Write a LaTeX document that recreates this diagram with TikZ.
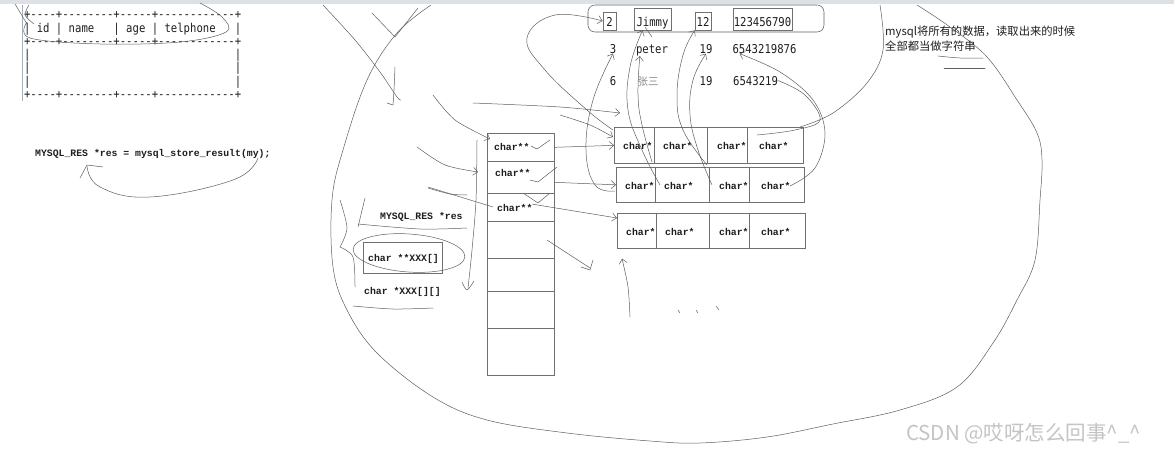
\documentclass[tikz,border=0pt]{standalone}
\usepackage{fontspec}
\usetikzlibrary{arrows.meta}
\newfontfamily\tblfont{DejaVu Sans Mono}[FakeStretch=0.87]
\newfontfamily\sunfont{Liberation Mono}
\newfontfamily\cjkfont{Noto Sans CJK SC}
\definecolor{sk}{HTML}{5E5E5E}
\definecolor{bx}{HTML}{707070}
\definecolor{ink}{HTML}{1E1E1E}
\definecolor{wm}{HTML}{C4C4C4}
\definecolor{bar}{HTML}{DDE1E6}
\definecolor{margin}{HTML}{9DB2C8}
\definecolor{zs}{HTML}{8A8A8A}
\begin{document}
\begin{tikzpicture}[x=1pt,y=-1pt,
  hand/.style={draw=sk, line width=0.5pt, line cap=round, line join=round},
  harrow/.style={hand, -{Straight Barb[length=4.5pt,width=8pt]}},
  cellbox/.style={draw=bx, line width=0.65pt, inner sep=0pt, anchor=north west},
  sun/.style={font=\sunfont\bfseries\fontsize{9.8}{11}\selectfont, text=ink, inner sep=0pt},
  mono/.style={font=\tblfont\fontsize{12.2}{13.2}\selectfont, text=ink, inner sep=0pt},
  cjk/.style={font=\cjkfont\fontsize{11.3}{15}\selectfont, text=ink, inner sep=0pt}]
\useasboundingbox (0,0) rectangle (1174,452);
\fill[white] (0,0) rectangle (1174,452);
\fill[bar] (0,0) rectangle (1174,4);

% ---------- ascii table ----------
\draw[margin, line width=0.8pt] (22,5) -- (22,101);
\node[mono, anchor=base west] (tb1) at (23.8,19) {+----+--------+-----+------------+};
\node[mono, anchor=base west] (tb2) at (23.8,32.2) {|~id~|~name~~~|~age~|~telphone~~~|};
\node[mono, anchor=base west] (tb3) at (23.8,45.4) {+----+--------+-----+------------+};
\node[mono, anchor=base west] (tb4) at (23.8,58.6) {|~~~~~~~~~~~~~~~~~~~~~~~~~~~~~~~~|};
\node[mono, anchor=base west] (tb5) at (23.8,71.8) {|~~~~~~~~~~~~~~~~~~~~~~~~~~~~~~~~|};
\node[mono, anchor=base west] (tb6) at (23.8,85) {|~~~~~~~~~~~~~~~~~~~~~~~~~~~~~~~~|};
\node[mono, anchor=base west] (tb7) at (23.8,98.2) {+----+--------+-----+------------+};
\draw[hand] plot[smooth, tension=0.6] coordinates {(27,22) (30,38) (100,44) (180,42) (226,32) (222,17) (200,3)};
\draw[hand] (15,4) -- (27,24);
\draw[hand] plot[smooth] coordinates {(29,5) (25,15) (34,24)};

% ---------- MYSQL_RES line ----------
\node[sun, anchor=base west] (mres) at (35,156) {MYSQL\_RES *res = mysql\_store\_result(my);};
\draw[hand] plot[smooth, tension=0.7] coordinates {(258,158) (233,180) (150,197) (100,187) (87,166)};
\draw[hand] (80,178) -- (87,165) -- (103,167);

% ---------- big outline ----------
\draw[hand] plot[smooth, tension=0.6] coordinates {(917,5) (950,27) (987,57) (1017,100) (1037,133) (1042,160) (1040,200) (1035,260) (1017,300) (993,343) (957,387) (900,410) (833,424) (767,437) (700,443) (650,441) (567,433) (487,420) (433,397) (377,353) (347,310) (333,267) (332,200) (343,150) (367,80) (397,33) (431,5)};

% ---------- top records ----------
\node[draw=sk, line width=0.55pt, rounded corners=7pt, minimum width=236pt, minimum height=27pt, inner sep=0pt] (rec) at (706,18.5) {};
\node[draw=bx, line width=0.65pt, minimum width=13pt, minimum height=18pt, inner sep=0pt] (b2) at (609.5,21) {};
\node[draw=bx, line width=0.65pt, minimum width=37pt, minimum height=22pt, inner sep=0pt] (bJ) at (652.5,19) {};
\node[draw=bx, line width=0.65pt, minimum width=16pt, minimum height=18pt, inner sep=0pt] (b12) at (703,21) {};
\node[draw=bx, line width=0.65pt, minimum width=59pt, minimum height=22pt, inner sep=0pt] (btel) at (762.5,19) {};
\node[mono, anchor=base] (v2) at (609.5,26.5) {2};
\node[mono, anchor=base] (vJ) at (652.5,26.5) {Jimmy};
\node[mono, anchor=base] (v12) at (703,26.5) {12};
\node[mono, anchor=base] (vtel) at (762.5,26.5) {123456790};
\node[mono, anchor=base] (t3) at (613,53.3) {3};
\node[mono, anchor=base] (tpeter) at (652,53.3) {peter};
\node[mono, anchor=base] (t19a) at (706,53.3) {19};
\node[mono, anchor=base] (ttel2) at (764.5,53.3) {6543219876};
\node[mono, anchor=base] (t6) at (613,85) {6};
\node[anchor=base, inner sep=0pt, text=zs, font=\cjkfont\fontsize{10.5}{12}\selectfont] (tzs) at (648,85) {张三};
\node[mono, anchor=base] (t19b) at (706,85) {19};
\node[mono, anchor=base west] (ttel3) at (733,85) {6543219};

% ---------- note ----------
\node[cjk, anchor=base west] (note1) at (885,36) {mysql将所有的数据，读取出来的时候};
\node[cjk, anchor=base west] (note2) at (885,51) {全部都当做字符串};
\draw[hand] plot[smooth] coordinates {(938,56) (960,58) (983,58)};
\draw[hand] (944,68) -- (985,68);

% ---------- pointer column ----------
\foreach \i/\t/\b in {1/133/161,2/161/193,3/193/221,4/221/258,5/258/291,6/291/328,7/328/375}{
  \node[cellbox, minimum width=67pt, minimum height={(\b-\t)*1pt}] (p\i) at (487,\t) {};
}
\node[sun, anchor=base west] (l1) at (494,150) {char**};
\node[sun, anchor=base west] (l2) at (495,176.5) {char**};
\node[sun, anchor=base west] (l3) at (497,211.5) {char**};

% ---------- char* rows ----------
\foreach \r/\y/\a/\b/\c/\d/\e/\h in {1/127/614/654/707/747/803/36,2/167/616/655/709/749/804/35,3/213/617/656/709/749/805/35}{
  \node[cellbox, minimum width={(\b-\a)*1pt}, minimum height={\h*1pt}] (c\r1) at (\a,\y) {};
  \node[cellbox, minimum width={(\c-\b)*1pt}, minimum height={\h*1pt}] (c\r2) at (\b,\y) {};
  \node[cellbox, minimum width={(\d-\c)*1pt}, minimum height={\h*1pt}] (c\r3) at (\c,\y) {};
  \node[cellbox, minimum width={(\e-\d)*1pt}, minimum height={\h*1pt}] (c\r4) at (\d,\y) {};
  \node[sun, anchor=base west] at ({\a+9},{\y+22}) {char*};
  \node[sun, anchor=base west] at ({\b+9},{\y+22}) {char*};
  \node[sun, anchor=base west] at ({\c+10},{\y+22}) {char*};
  \node[sun, anchor=base west] at ({\d+12},{\y+22}) {char*};
}

% ---------- char** -> char* arrows ----------
\draw[harrow] (p1.east) -- (c11.west);
\draw[harrow] ([yshift=-5pt]p2.east) -- (c21.west);
\draw[harrow] (l3.north east) -- ([yshift=-5pt]c31.north west);
\draw[hand] (531,146) -- (537,149) -- (550,140);
\draw[hand] (530,180) -- (538,182) -- (557,167);
\draw[hand] (523,193) -- (538,203) -- (550,193);

% ---------- left boxes ----------
\node[sun, anchor=base west] (lres) at (380,219.5) {MYSQL\_RES *res};
\draw[hand] (365,198) -- (358,227);
\draw[hand] plot[smooth] coordinates {(358,224) (420,229) (467,228)};
\node[draw=bx, line width=0.65pt, minimum width=79pt, minimum height=31pt, inner sep=0pt] (bxx) at (402.5,257.5) {};
\node[sun, anchor=base] (txx) at (403.5,261) {char **XXX[]};
\node[sun, anchor=base west] (txx2) at (364,294) {char *XXX[][]};
\draw[hand, rotate around={-4:(409,253)}] (409,253) ellipse [x radius=56, y radius=19];
\draw[hand] plot[smooth] coordinates {(353,306) (393,309) (433,308)};
\draw[hand] plot[smooth] coordinates {(340,200) (347,228) (340,247)};
\draw[hand] plot[smooth] coordinates {(340,247) (353,257) (355,287)};
\draw[hand] plot[smooth] coordinates {(477,140) (476,200) (472,250) (468,288)};
\draw[hand] plot[smooth] coordinates {(462,282) (467,290) (474,281)};
\draw[hand] (428,187) -- (493,207);

% ---------- freehand strokes, left ----------
\draw[hand] plot[smooth] coordinates {(323,5) (355,40) (380,72) (397,97) (401,100)};
\draw[hand] (372,13) -- (395,37) -- (418,8);
\draw[hand] plot[smooth] coordinates {(395,67) (394,90) (393,105)};
\draw[hand] (393,105) -- (387,103);
\draw[harrow] plot[smooth] coordinates {(433,95) (455,120) (490,139)};
\draw[harrow] plot[smooth] coordinates {(417,147) (445,165) (478,172)};
\draw[hand] plot[smooth] coordinates {(428,188) (450,194) (467,195)};
\draw[harrow] plot[smooth] coordinates {(473,103) (560,107) (620,113)};
\draw[harrow] plot[smooth] coordinates {(560,115) (590,125) (613,137)};

% ---------- value <-> cell strokes ----------
\draw[harrow] plot[smooth, tension=0.7] coordinates {(613,130) (587,110) (545,70) (527,38) (555,15) (b2.west)};
\draw[harrow] plot[smooth, tension=0.7] coordinates {(615,191) (595,185) (586,150) (593,100) (t3.south)};
\draw[harrow] plot[smooth, tension=0.7] coordinates {(660,185) (642,150) (628,110) (630,67) ([xshift=-10pt]bJ.south)};
\draw[hand] (645,27) -- (652,37);
\draw[harrow] plot[smooth, tension=0.7] coordinates {(707,165) (683,130) (677,95) (683,55) (b12.south west)};
\draw[harrow] plot[smooth, tension=0.7] coordinates {(652,162) (642,125) (638,95) ([xshift=4pt]tpeter.south west)};
\draw[harrow] plot[smooth, tension=0.7] coordinates {(712,185) (698,150) (690,115) (693,80) (t19a.south)};
\draw[harrow] plot[smooth, tension=0.6] coordinates {(790,186) (815,168) (825,133) (813,100) (780,72) ([xshift=-25pt]ttel2.south)};
\draw[hand] plot[smooth, tension=0.6] coordinates {(757,135) (795,130) (820,120) (805,95) (ttel3.east)};
\draw[hand] plot[smooth, tension=0.6] coordinates {(880,5) (883,50) (867,83) (833,113) (800,127)};

% ---------- lower strokes ----------
\draw[hand] (547,240) -- (590,268);
\draw[hand] (593,260) -- (590,270) -- (581,267);
\draw[harrow] plot[smooth] coordinates {(630,317) (628,287) ([xshift=5pt,yshift=-10pt]c31.south west)};
\draw[hand] (678,310) -- (680,313);
\draw[hand] (696,310) -- (698,313);
\draw[hand] (716,306) -- (719,310);

% ---------- watermark ----------
\node[anchor=base west, inner sep=0pt, text=wm, font=\cjkfont\fontsize{20.5}{22}\selectfont] (wmk) at (906,440) {CSDN @哎呀怎么回事\textasciicircum\_\textasciicircum};
\end{tikzpicture}
\end{document}
